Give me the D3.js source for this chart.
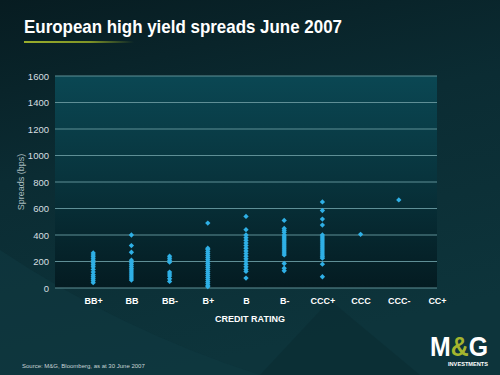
<!DOCTYPE html>
<html>
<head>
<meta charset="utf-8">
<script src="https://cdn.jsdelivr.net/npm/d3@7"></script>
<style>
  html, body { margin: 0; padding: 0; background: #0b2a31; }
  svg { display: block; }
</style>
</head>
<body>
<svg id="chart" width="500" height="375"></svg>
<script>
// credit rating categories, x position 1..10
const ratings = ['BB+', 'BB', 'BB-', 'B+', 'B', 'B-', 'CCC+', 'CCC', 'CCC-', 'CC+']
const yTicks = [0, 200, 400, 600, 800, 1000, 1200, 1400, 1600]

// spreads (bps) per rating
const bbPlus = [265, 250, 235, 220, 205, 190, 175, 160, 140, 120, 100, 85, 70, 55, 40]
const bb = [400, 320, 270, 210, 195, 180, 165, 150, 135, 120, 105, 90, 75, 60]
const bbMinus = [240, 225, 210, 195, 120, 105, 90, 70, 50]
const bPlus = [490, 300, 290, 275, 260, 245, 230, 215, 200, 185, 170, 155, 140, 125, 110, 95, 80, 65, 50, 35, 20, 10]
const b = [540, 440, 400, 380, 360, 340, 320, 300, 280, 260, 240, 220, 200, 180, 160, 140, 125, 75]
const bMinus = [510, 450, 435, 420, 400, 385, 370, 355, 340, 325, 310, 295, 280, 265, 250, 185, 150, 130]
const cccPlus = [650, 585, 520, 475, 400, 385, 370, 355, 340, 325, 310, 295, 280, 265, 250, 235, 225, 180, 85]
const ccc = [405]
const cccMinus = [665]
const ccPlus = []

const seriesByRating = [bbPlus, bb, bbMinus, bPlus, b, bMinus, cccPlus, ccc, cccMinus, ccPlus]

function draw() {
  const svg = d3.select('#chart')
  const W = 500, H = 375
  const plot = { left: 55, right: 437, top: 76, bottom: 288 }

  const defs = svg.append('defs')

  const bg = defs.append('linearGradient').attr('id', 'bg')
    .attr('x1', 0).attr('y1', 0).attr('x2', 0.3).attr('y2', 1)
  bg.append('stop').attr('offset', '0%').attr('stop-color', '#071c21')
  bg.append('stop').attr('offset', '45%').attr('stop-color', '#0b2c33')
  bg.append('stop').attr('offset', '100%').attr('stop-color', '#0d343b')

  const pg = defs.append('linearGradient').attr('id', 'plotbg')
    .attr('x1', 0).attr('y1', 0).attr('x2', 0).attr('y2', 1)
  pg.append('stop').attr('offset', '0%').attr('stop-color', '#0a4753')
  pg.append('stop').attr('offset', '50%').attr('stop-color', '#08333c')
  pg.append('stop').attr('offset', '100%').attr('stop-color', '#041b21')

  const ul = defs.append('linearGradient').attr('id', 'underline')
  ul.append('stop').attr('offset', '0%').attr('stop-color', '#9aae2c')
  ul.append('stop').attr('offset', '60%').attr('stop-color', '#7f9426')
  ul.append('stop').attr('offset', '100%').attr('stop-color', '#7f9426').attr('stop-opacity', 0)

  // background
  svg.append('rect').attr('width', W).attr('height', H).attr('fill', 'url(#bg)')
  // faint sweeping shapes
  svg.append('path')
    .attr('d', 'M0,250 Q120,330 260,375 L0,375 Z')
    .attr('fill', '#0f3a41').attr('opacity', 0.5)
  svg.append('path')
    .attr('d', 'M260,375 L330,300 L420,375 Z')
    .attr('fill', '#0a2a30').attr('opacity', 0.5)

  // title
  svg.append('text')
    .attr('x', 24).attr('y', 33)
    .attr('fill', '#ffffff')
    .attr('font-family', '"Liberation Sans Narrow", "Arial Narrow", "Liberation Sans", Arial, sans-serif')
    .attr('font-weight', 'bold')
    .attr('font-size', 19)
    .attr('textLength', 318)
    .attr('lengthAdjust', 'spacingAndGlyphs')
    .text('European high yield spreads June 2007')
  svg.append('rect')
    .attr('x', 24).attr('y', 41).attr('width', 110).attr('height', 2)
    .attr('fill', 'url(#underline)')

  const x = d3.scaleLinear().domain([0, 10]).range([plot.left, plot.right])
  const y = d3.scaleLinear().domain([0, 1600]).range([plot.bottom, plot.top])

  svg.append('rect')
    .attr('x', plot.left).attr('y', plot.top)
    .attr('width', plot.right - plot.left).attr('height', plot.bottom - plot.top)
    .attr('fill', 'url(#plotbg)')

  // gridlines
  svg.append('g')
    .selectAll('line')
    .data(yTicks)
    .join('line')
    .attr('x1', plot.left).attr('x2', plot.right)
    .attr('y1', d => y(d)).attr('y2', d => y(d))
    .attr('stroke', '#5f8f96')
    .attr('stroke-width', 1.2)

  // y axis
  const yAxis = svg.append('g')
    .attr('transform', `translate(${plot.left},0)`)
    .call(d3.axisLeft(y).tickValues(yTicks).tickFormat(d3.format('d')).tickSize(0).tickPadding(6))
  yAxis.select('.domain').remove()
  yAxis.selectAll('text')
    .attr('fill', '#d6dfe0')
    .attr('font-family', '"Liberation Sans", Arial, sans-serif')
    .attr('font-size', 9.5)

  // x axis
  const xAxis = svg.append('g')
    .attr('transform', `translate(0,${plot.bottom})`)
    .call(d3.axisBottom(x).tickValues(d3.range(1, 11)).tickFormat(i => ratings[i - 1]).tickSize(0).tickPadding(10))
  xAxis.select('.domain').remove()
  xAxis.selectAll('text')
    .attr('fill', '#ffffff')
    .attr('font-family', '"Liberation Sans", Arial, sans-serif')
    .attr('font-weight', 'bold')
    .attr('font-size', 9)

  // axis titles
  svg.append('text')
    .attr('transform', `translate(24,${(plot.top + plot.bottom) / 2}) rotate(-90)`)
    .attr('text-anchor', 'middle')
    .attr('fill', '#a9bcbf')
    .attr('font-family', '"Liberation Sans", Arial, sans-serif')
    .attr('font-size', 9)
    .text('Spreads (bps)')

  svg.append('text')
    .attr('x', 250).attr('y', 322)
    .attr('text-anchor', 'middle')
    .attr('fill', '#ffffff')
    .attr('font-family', '"Liberation Sans", Arial, sans-serif')
    .attr('font-weight', 'bold')
    .attr('font-size', 9)
    .text('CREDIT RATING')

  // points
  const points = seriesByRating.flatMap((vals, i) => vals.map(v => ({ cat: i + 1, v })))
  const diamond = d3.symbol().type(d3.symbolDiamond2).size(18)
  svg.append('g')
    .selectAll('path')
    .data(points)
    .join('path')
    .attr('d', diamond)
    .attr('transform', d => `translate(${x(d.cat)},${y(d.v)})`)
    .attr('fill', '#2fb0e6')

  // source
  svg.append('text')
    .attr('x', 22).attr('y', 368)
    .attr('fill', '#c9d4d6')
    .attr('font-family', '"Liberation Sans", Arial, sans-serif')
    .attr('font-size', 6)
    .text('Source: M&G, Bloomberg, as at 30 June 2007')

  // logo
  const logo = svg.append('g').attr('transform', 'translate(430,356)')
  logo.append('text')
    .attr('x', 0).attr('y', 0)
    .attr('fill', '#ffffff')
    .attr('font-family', '"Liberation Sans Narrow", "Liberation Sans", Arial, sans-serif')
    .attr('font-weight', 'bold')
    .attr('font-size', 27)
    .attr('textLength', 58)
    .attr('lengthAdjust', 'spacingAndGlyphs')
    .html('M<tspan fill="#a4b52e">&amp;</tspan>G')
  logo.append('text')
    .attr('x', 58).attr('y', 10)
    .attr('text-anchor', 'end')
    .attr('fill', '#ffffff')
    .attr('font-family', '"Liberation Sans Narrow", "Liberation Sans", Arial, sans-serif')
    .attr('font-weight', 'bold')
    .attr('font-size', 5)
    .attr('textLength', 40)
    .attr('lengthAdjust', 'spacingAndGlyphs')
    .text('INVESTMENTS')
}

document.addEventListener('DOMContentLoaded', draw, false)
</script>
</body>
</html>
